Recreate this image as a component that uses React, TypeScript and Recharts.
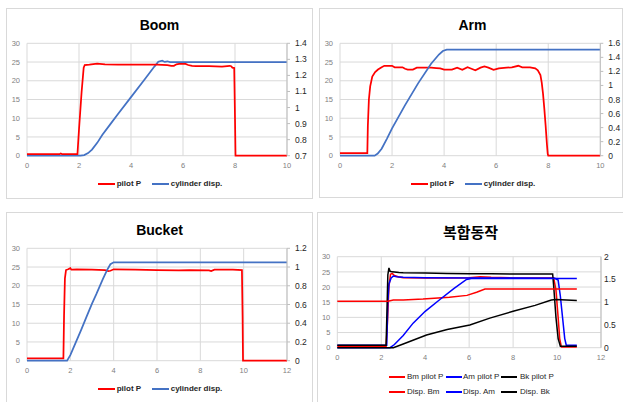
import React from 'react';
import { LineChart, Line, XAxis, YAxis, CartesianGrid } from 'recharts';

const FONT = '"Liberation Sans", Arial, sans-serif';
const KFONT = '"Noto Sans CJK KR", "Noto Sans", sans-serif';

// ---------- Boom ----------
const boomPilotX = [0, 1.25, 1.3, 1.35, 1.94, 2.0, 2.1, 2.18, 2.22, 2.4, 2.7, 3.0, 3.5, 4.0, 4.5, 5.0, 5.4, 5.55, 5.65, 5.75, 5.85, 6.1, 6.2, 6.35, 6.5, 7.0, 7.5, 7.8, 7.85, 7.9, 7.97, 8.0, 8.02, 10];
const boomPilotY = [0.4, 0.4, 0.6, 0.4, 0.4, 7, 17, 23.5, 24.2, 24.3, 24.6, 24.4, 24.3, 24.3, 24.3, 24.3, 24.2, 24.0, 24.0, 24.4, 24.5, 24.5, 24.2, 24.0, 23.9, 23.9, 23.8, 24.0, 23.9, 23.5, 23.4, 10, 0, 0];
const boomCylX = [0, 2.05, 2.2, 2.35, 2.5, 2.7, 2.9, 3.2, 3.5, 4.0, 4.5, 4.9, 5.05, 5.2, 5.3, 5.4, 5.5, 10];
const boomCylY = [0.7, 0.7, 0.704, 0.716, 0.738, 0.78, 0.83, 0.895, 0.96, 1.065, 1.17, 1.255, 1.285, 1.292, 1.284, 1.288, 1.283, 1.283];

// ---------- Arm ----------
const armPilotX = [0, 1.05, 1.07, 1.11, 1.16, 1.24, 1.35, 1.46, 1.6, 1.7, 2.0, 2.1, 2.4, 2.5, 2.6, 2.8, 2.95, 3.5, 3.7, 3.85, 4.0, 4.3, 4.5, 4.7, 4.9, 5.05, 5.2, 5.4, 5.55, 5.7, 5.9, 6.1, 6.4, 6.6, 6.85, 7.0, 7.3, 7.5, 7.6, 7.7, 7.75, 7.8, 7.85, 7.9, 7.95, 7.98, 8.0, 10];
const armPilotY = [0.7, 0.7, 8, 15, 18.5, 21.1, 22.3, 23, 23.6, 24, 24, 23.6, 23.6, 23.2, 23, 23, 23.5, 23.5, 23.4, 23.3, 23.0, 23.0, 23.5, 22.9, 23.6, 23.2, 22.8, 23.5, 23.8, 23.5, 22.9, 23.3, 23.5, 23.6, 24.0, 23.6, 23.6, 23.3, 22.8, 21.5, 19.5, 16.5, 12.5, 8, 3, 0.5, 0, 0];
const armCylX = [0, 1.33, 1.45, 1.6, 1.8, 2.0, 2.5, 3.0, 3.5, 3.8, 3.95, 4.1, 10];
const armCylY = [0, 0, 0.03, 0.1, 0.24, 0.39, 0.72, 1.03, 1.31, 1.44, 1.49, 1.51, 1.51];

// ---------- Bucket ----------
const bucketPilotX = [0, 1.68, 1.71, 1.75, 1.8, 1.9, 2.0, 2.05, 2.3, 3.0, 3.6, 3.75, 3.85, 4.0, 5.0, 6.0, 7.0, 7.5, 8.4, 8.5, 8.65, 9.5, 9.92, 9.95, 9.97, 12];
const bucketPilotY = [0.6, 0.6, 12, 22, 24.2, 24.4, 24.7, 24.3, 24.4, 24.3, 24.2, 23.9, 24.0, 24.4, 24.3, 24.2, 24.1, 24.2, 24.1, 23.9, 24.3, 24.3, 24.2, 12, 0, 0];
const bucketCylX = [0, 1.85, 2.0, 2.5, 2.75, 3.0, 3.2, 3.5, 3.7, 3.85, 4.0, 12];
const bucketCylY = [0, 0, 0.06, 0.33, 0.47, 0.61, 0.71, 0.87, 0.97, 1.03, 1.05, 1.05];

// ---------- 복합동작 ----------
const bmPilotX = [0, 2.22, 2.28, 2.35, 2.42, 2.5, 2.6, 2.8, 3.0, 4.0, 5.0, 6.0, 6.5, 7.0, 8.0, 9.0, 9.85, 9.95, 10.05, 10.12, 10.2, 10.9];
const bmPilotY = [0.4, 0.4, 8, 20, 24.2, 24.5, 23.8, 23.3, 23.1, 23.0, 23.0, 23.1, 23.4, 23.2, 23.0, 23.0, 23.0, 19, 10, 3, 0.2, 0.2];
const amPilotX = [0, 2.25, 2.3, 2.35, 2.45, 2.55, 2.7, 3.0, 4.0, 6.0, 8.0, 9.9, 10.05, 10.15, 10.25, 10.35, 10.42, 10.9];
const amPilotY = [0.8, 0.8, 15, 21, 23, 23.6, 23.4, 23.2, 23.1, 23.0, 23.0, 22.9, 22.3, 17, 10, 3, 0.8, 0.8];
const bkPilotX = [0, 2.22, 2.26, 2.3, 2.35, 2.4, 2.5, 2.8, 3.0, 4.0, 5.0, 6.0, 7.0, 8.0, 9.8, 9.85, 9.95, 10.05, 10.15, 10.9];
const bkPilotY = [0.8, 0.8, 12, 24, 26.3, 25.2, 25.0, 24.8, 24.7, 24.6, 24.5, 24.4, 24.4, 24.3, 24.3, 20, 10, 3, 0.5, 0.5];
const dispBmX = [0, 2.3, 2.55, 3.0, 3.9, 5.1, 5.9, 6.34, 6.72, 7.0, 10.9];
const dispBmY = [1.02, 1.02, 1.05, 1.05, 1.07, 1.11, 1.15, 1.22, 1.29, 1.29, 1.29];
const dispAmX = [0, 2.4, 2.6, 3.0, 3.45, 4.0, 4.67, 5.3, 5.88, 6.1, 10.9];
const dispAmY = [0, 0, 0.07, 0.27, 0.54, 0.8, 1.06, 1.3, 1.5, 1.52, 1.52];
const dispBkX = [0, 2.55, 3.0, 4.06, 5.0, 6.03, 6.94, 8.0, 9.0, 9.74, 9.95, 10.9];
const dispBkY = [0, 0, 0.08, 0.28, 0.4, 0.5, 0.65, 0.8, 0.93, 1.05, 1.06, 1.04];

// ---------- ticks ----------
const leftTicks = [0, 5, 10, 15, 20, 25, 30];
const xTicks10 = [0, 2, 4, 6, 8, 10];
const xTicks12 = [0, 2, 4, 6, 8, 10, 12];
const boomRightTicks = [0.7, 0.8, 0.9, 1, 1.1, 1.2, 1.3, 1.4];
const armRightTicks = [0, 0.2, 0.4, 0.6, 0.8, 1, 1.2, 1.4, 1.6];
const bucketRightTicks = [0, 0.2, 0.4, 0.6, 0.8, 1, 1.2];
const comboRightTicks = [0, 0.5, 1, 1.5, 2];

type Pt = { x: number; y: number };
const pts = (xs: number[], ys: number[]): Pt[] => xs.map((x, i) => ({ x, y: ys[i] }));

const RED = '#FF0000';
const STEEL = '#4472C4';
const BLUE = '#0000FF';
const BLACK = '#000000';
const GRID = '#d9d9d9';

const tickLeft = { fontSize: 7.5, fill: '#7f7f7f', fontFamily: FONT };
const tickRight = { fontSize: 8.5, fill: '#262626', fontFamily: FONT };

type Series = { name: string; data: Pt[]; color: string; axis: 'left' | 'right' };
type LegendItem = { name: string; color: string; lx: number; tx: number; y: number };

type PanelProps = {
  left: number;
  top: number;
  width: number;
  height: number;
  title: string;
  titleFont: string;
  titleSize: number;
  titleTop: number;
  xMax: number;
  xTicks: number[];
  rightDomain: [number, number];
  rightTicks: number[];
  series: Series[];
  legend: LegendItem[];
  legendBold: boolean;
  legendLineW: number;
  mTop: number;
  mBottom: number;
  leftW: number;
  rightW: number;
  rightTickSize: number;
  rightTickMargin: number;
  strokeW: number;
};

function Panel(p: PanelProps) {
  return (
    <div style={{ position: 'absolute', left: p.left, top: p.top, width: p.width, height: p.height }}>
      <div
        style={{
          position: 'absolute',
          left: 0,
          top: 0,
          width: p.width,
          height: p.height,
          boxSizing: 'border-box',
          border: '1px solid #d9d9d9',
        }}
      />
      <div
        style={{
          position: 'absolute',
          left: 0,
          top: p.titleTop,
          width: 307,
          textAlign: 'center',
          fontFamily: p.titleFont,
          fontWeight: 'bold',
          fontSize: p.titleSize,
          lineHeight: `${p.titleSize}px`,
          color: '#000',
          whiteSpace: 'nowrap',
        }}
      >
        {p.title}
      </div>
      <div style={{ position: 'absolute', left: 0, top: 0 }}>
        <LineChart
          width={p.width}
          height={p.height}
          margin={{ top: p.mTop, right: 0, bottom: p.mBottom, left: 0 }}
        >
          <CartesianGrid yAxisId="left" stroke={GRID} strokeWidth={1} />
          <XAxis
            dataKey="x"
            type="number"
            domain={[0, p.xMax]}
            ticks={p.xTicks}
            interval={0}
            tick={tickLeft}
            tickLine={false}
            axisLine={false}
            tickSize={0}
            tickMargin={7}
            height={20}
          />
          <YAxis
            yAxisId="left"
            orientation="left"
            type="number"
            domain={[0, 30]}
            ticks={leftTicks}
            interval={0}
            width={p.leftW}
            axisLine={false}
            tickLine={false}
            tickSize={0}
            tickMargin={7}
            tick={tickLeft}
          />
          <YAxis
            yAxisId="right"
            orientation="right"
            type="number"
            domain={p.rightDomain}
            ticks={p.rightTicks}
            interval={0}
            width={p.rightW}
            axisLine={{ stroke: '#bfbfbf' }}
            tickLine={p.rightTickSize > 0 ? { stroke: '#bfbfbf' } : false}
            tickSize={p.rightTickSize}
            tickMargin={p.rightTickMargin}
            tick={tickRight}
            tickFormatter={(v: number) => String(v)}
          />
          {p.series.map((s) => (
            <Line
              key={s.name}
              name={s.name}
              data={s.data}
              dataKey="y"
              yAxisId={s.axis}
              type="linear"
              stroke={s.color}
              strokeWidth={p.strokeW}
              dot={false}
              activeDot={false}
              isAnimationActive={false}
            />
          ))}
        </LineChart>
      </div>
      {p.legend.map((l) => (
        <React.Fragment key={l.name}>
          <div
            style={{
              position: 'absolute',
              left: l.lx,
              top: l.y - 1,
              width: p.legendLineW,
              height: 2,
              background: l.color,
            }}
          />
          <div
            style={{
              position: 'absolute',
              left: l.tx,
              top: l.y - 5,
              height: 10,
              lineHeight: '10px',
              fontFamily: FONT,
              fontSize: 8,
              fontWeight: p.legendBold ? 'bold' : 'normal',
              color: '#262626',
              whiteSpace: 'nowrap',
            }}
          >
            {l.name}
          </div>
        </React.Fragment>
      ))}
    </div>
  );
}

export default function App() {
  return (
    <div
      style={{
        position: 'absolute',
        left: 0,
        top: 0,
        width: 623,
        height: 402,
        overflow: 'hidden',
        background: '#ffffff',
      }}
    >
      <Panel
        left={6}
        top={8}
        width={307}
        height={191}
        title="Boom"
        titleFont={FONT}
        titleSize={14}
        titleTop={9.5}
        xMax={10}
        xTicks={xTicks10}
        rightDomain={[0.7, 1.4]}
        rightTicks={boomRightTicks}
        series={[
          { name: 'cylinder disp.', data: pts(boomCylX, boomCylY), color: STEEL, axis: 'right' },
          { name: 'pilot P', data: pts(boomPilotX, boomPilotY), color: RED, axis: 'left' },
        ]}
        legend={[
          { name: 'pilot P', color: RED, lx: 92.3, tx: 110.7, y: 176.3 },
          { name: 'cylinder disp.', color: STEEL, lx: 145.7, tx: 164.7, y: 176.3 },
        ]}
        legendBold={true}
        legendLineW={17}
        mTop={35.3}
        mBottom={23.3}
        leftW={21}
        rightW={26}
        rightTickSize={3}
        rightTickMargin={5}
        strokeW={1.75}
      />
      <Panel
        left={319}
        top={8}
        width={304}
        height={190}
        title="Arm"
        titleFont={FONT}
        titleSize={14}
        titleTop={9.5}
        xMax={10}
        xTicks={xTicks10}
        rightDomain={[0, 1.6]}
        rightTicks={armRightTicks}
        series={[
          { name: 'pilot P', data: pts(armPilotX, armPilotY), color: RED, axis: 'left' },
          { name: 'cylinder disp.', data: pts(armCylX, armCylY), color: STEEL, axis: 'right' },
        ]}
        legend={[
          { name: 'pilot P', color: RED, lx: 92.3, tx: 110.7, y: 176.3 },
          { name: 'cylinder disp.', color: STEEL, lx: 145.7, tx: 164.7, y: 176.3 },
        ]}
        legendBold={true}
        legendLineW={17}
        mTop={35.3}
        mBottom={22.3}
        leftW={21}
        rightW={22.7}
        rightTickSize={3}
        rightTickMargin={5}
        strokeW={1.75}
      />
      <Panel
        left={6}
        top={212}
        width={307}
        height={200}
        title="Bucket"
        titleFont={FONT}
        titleSize={14}
        titleTop={10.5}
        xMax={12}
        xTicks={xTicks12}
        rightDomain={[0, 1.2]}
        rightTicks={bucketRightTicks}
        series={[
          { name: 'pilot P', data: pts(bucketPilotX, bucketPilotY), color: RED, axis: 'left' },
          { name: 'cylinder disp.', data: pts(bucketCylX, bucketCylY), color: STEEL, axis: 'right' },
        ]}
        legend={[
          { name: 'pilot P', color: RED, lx: 92.3, tx: 110.7, y: 177.3 },
          { name: 'cylinder disp.', color: STEEL, lx: 145.7, tx: 164.7, y: 177.3 },
        ]}
        legendBold={true}
        legendLineW={17}
        mTop={36.3}
        mBottom={31.3}
        leftW={21}
        rightW={26}
        rightTickSize={3}
        rightTickMargin={5}
        strokeW={1.75}
      />
      <Panel
        left={317}
        top={212}
        width={307}
        height={200}
        title="복합동작"
        titleFont={KFONT}
        titleSize={15}
        titleTop={12}
        xMax={12}
        xTicks={xTicks12}
        rightDomain={[0, 2]}
        rightTicks={comboRightTicks}
        series={[
          { name: 'Bm pilot P', data: pts(bmPilotX, bmPilotY), color: RED, axis: 'left' },
          { name: 'Am pilot P', data: pts(amPilotX, amPilotY), color: BLUE, axis: 'left' },
          { name: 'Bk pilot P', data: pts(bkPilotX, bkPilotY), color: BLACK, axis: 'left' },
          { name: 'Disp. Bm', data: pts(dispBmX, dispBmY), color: RED, axis: 'right' },
          { name: 'Disp. Am', data: pts(dispAmX, dispAmY), color: BLUE, axis: 'right' },
          { name: 'Disp. Bk', data: pts(dispBkX, dispBkY), color: BLACK, axis: 'right' },
        ]}
        legend={[
          { name: 'Bm pilot P', color: RED, lx: 72, tx: 90, y: 165 },
          { name: 'Am pilot P', color: BLUE, lx: 128.7, tx: 146, y: 165 },
          { name: 'Bk pilot P', color: BLACK, lx: 184, tx: 203, y: 165 },
          { name: 'Disp. Bm', color: RED, lx: 72, tx: 90, y: 180 },
          { name: 'Disp. Am', color: BLUE, lx: 128.7, tx: 146, y: 180 },
          { name: 'Disp. Bk', color: BLACK, lx: 184, tx: 203, y: 180 },
        ]}
        legendBold={false}
        legendLineW={16}
        mTop={44.7}
        mBottom={44.3}
        leftW={20.3}
        rightW={23}
        rightTickSize={0}
        rightTickMargin={3}
        strokeW={1.5}
      />
    </div>
  );
}
